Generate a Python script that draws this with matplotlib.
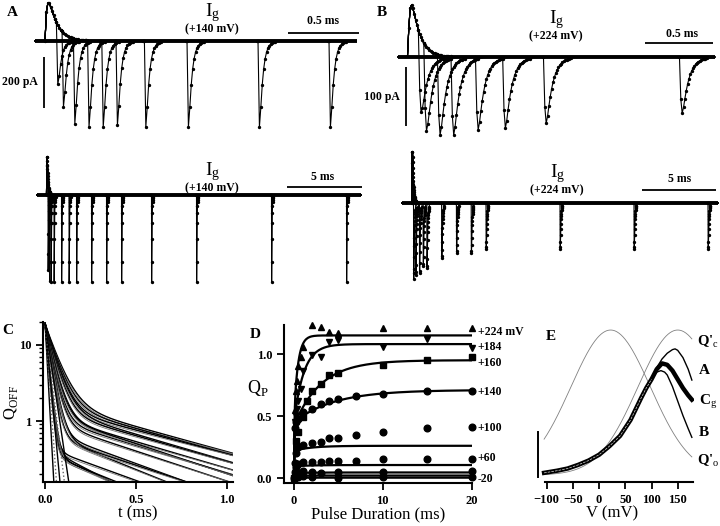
import matplotlib
matplotlib.use("Agg")
import matplotlib.pyplot as plt
import numpy as np

W, H = 720, 526

# ---- A / B: gating current traces (pulse durations in ms, tail peaks in pA)
a_top_dur = [0.08, 0.12, 0.2, 0.3, 0.4, 0.5, 0.7, 1.0, 1.5, 2.0]
a_top_tail = [180, 263, 325, 337, 337, 330, 337, 337, 337, 337]
a_bot_dur = [0.1, 0.2, 0.3, 0.5, 1, 1.5, 2, 3, 4, 5, 7, 10, 15, 20]
a_bot_tail = [300, 340, 340, 340, 340, 340, 340, 340, 340, 340, 340, 340, 340, 340]
a_on_peak = 150

b_top_dur = [0.08, 0.12, 0.22, 0.32, 0.5, 0.7, 1.0, 2.0]
b_top_tail = [98, 127, 132, 132, 123, 120, 112, 95]
b_bot_dur = [0.1, 0.25, 0.5, 0.75, 1, 2, 3, 4, 5, 10, 15, 20]
b_bot_tail = [134, 125, 122, 110, 113, 96, 86, 86, 79, 79, 79, 79]
b_on_peak = 88

# ---- C: Q_OFF decays, (A_fast, tau_fast, A_slow, tau_slow)
c_fast_amp = [17, 17, 18, 17, 18, 18, 18, 18, 18, 19, 19, 19, 19, 19, 19, 19]
c_fast_tau = [0.060, 0.055, 0.050, 0.050, 0.045, 0.040, 0.035, 0.038, 0.033,
              0.028, 0.025, 0.030, 0.016, 0.016, 0.015, 0.018]
c_slow_amp = [1.80, 1.70, 1.55, 1.50, 1.40, 1.20, 1.10, 1.25, 1.00,
              0.75, 0.70, 0.65, 0.45, 0.45, 0.40, 0.38]
c_slow_tau = [0.66, 0.66, 0.70, 0.62, 0.64, 0.62, 0.60, 0.55, 0.55,
              0.50, 0.45, 0.55, 0.50, 0.35, 0.40, 0.45]
c_quick_tau = [0.010, 0.013, 0.017, 0.022, 0.027]

# ---- D: Q_P vs pulse duration
d_labels = ["+224 mV", "+184", "+160", "+140", "+100", "+60", "-20"]
d_label_y = [1.18, 1.06, 0.93, 0.69, 0.40, 0.16, -0.01]
t224 = [0.1, 0.2, 0.3, 0.5, 0.75, 1, 2, 3, 4, 5, 10, 15, 20]
q224 = [0.55, 0.70, 0.78, 0.90, 0.98, 1.06, 1.23, 1.22, 1.18, 1.17, 1.21, 1.21, 1.21]
t184 = [0.1, 0.2, 0.3, 0.5, 0.75, 1, 2, 3, 4, 5, 10, 15, 20]
q184 = [0.45, 0.50, 0.56, 0.62, 0.72, 0.86, 0.99, 0.98, 1.10, 1.11, 1.06, 1.12, 1.05]
t160 = [0, 0.25, 0.5, 1, 1.5, 2, 3, 4, 5, 10, 15, 20]
q160 = [0.0, 0.30, 0.37, 0.49, 0.62, 0.70, 0.76, 0.83, 0.85, 0.91, 0.95, 0.98]
t140 = [0.1, 0.25, 0.5, 1, 2, 3, 4, 5, 7, 10, 15, 20]
q140 = [0.40, 0.45, 0.48, 0.53, 0.56, 0.60, 0.62, 0.64, 0.66, 0.68, 0.70, 0.70]
t100 = [0.1, 0.25, 0.5, 1, 2, 3, 4, 5, 7, 10, 15, 20]
q100 = [0.12, 0.20, 0.25, 0.27, 0.28, 0.29, 0.32, 0.32, 0.35, 0.37, 0.40, 0.41]
t60 = [0.1, 0.25, 0.5, 1, 2, 3, 4, 5, 7, 10, 15, 20]
q60 = [0.05, 0.09, 0.11, 0.13, 0.13, 0.13, 0.135, 0.135, 0.14, 0.15, 0.155, 0.155]
t20 = [0.1, 0.25, 0.5, 1, 2, 3, 5, 10, 20]
q20 = [0.02, 0.03, 0.04, 0.06, 0.05, 0.04, 0.05, 0.05, 0.06]
tm20 = [0, 0.25, 0.5, 1, 2, 5, 10, 20]
qm20 = [0.0, 0.01, 0.01, 0.02, 0.01, 0.0, 0.01, 0.01]
# fits: fast amplitude, slow amplitude, slow tau (ms)
fit_fast = [0.50, 0.45, 0.42, 0.45, 0.22, 0.095, 0.04, 0.02, 0.003]
fit_slow = [0.65, 0.63, 0.53, 0.26, 0.04, 0.01, 0.005, 0.0, 0.0]
fit_tau = [0.45, 1.1, 3.0, 4.5, 2.0, 2.0, 2.0, 2.0, 2.0]

# ---- E: normalized curves vs V (mV)
v_rise = [-105, -100, -80, -60, -40, -20, 0, 20, 40, 60, 80, 90, 100]
rise = [0.015, 0.018, 0.03, 0.045, 0.07, 0.10, 0.14, 0.20, 0.27, 0.38, 0.53, 0.60, 0.66]
v_cg = [110, 120, 130, 140, 150, 160, 170, 177]
cg = [0.73, 0.77, 0.76, 0.72, 0.66, 0.60, 0.55, 0.52]
v_a = [110, 120, 130, 140, 145, 150, 160, 170, 177]
curve_a = [0.74, 0.80, 0.84, 0.865, 0.87, 0.86, 0.81, 0.73, 0.655]
v_b = [110, 118, 125, 130, 140, 150, 160, 170, 177]
curve_b = [0.71, 0.72, 0.71, 0.69, 0.61, 0.51, 0.41, 0.32, 0.26]
q_open_peak, q_closed_peak, q_width = 22, 150, 76

plt.rcParams["font.family"] = ["Liberation Serif", "DejaVu Serif"]
plt.rcParams["mathtext.fontset"] = "custom"
plt.rcParams["mathtext.rm"] = "Liberation Serif"
plt.rcParams["mathtext.bf"] = "Liberation Serif:bold"

fig = plt.figure(figsize=(W / 100, H / 100), dpi=100)


def px_axes(x0, y0, x1, y1):
    return fig.add_axes([x0 / W, 1 - y1 / H, (x1 - x0) / W, (y1 - y0) / H])


def px_text(x, y, s, size=9, weight="bold", ha="center", **kw):
    fig.text(x / W, 1 - y / H, s, size=size, weight=weight, ha=ha, va="center", **kw)


def pulse(t, tr, td):
    tt = np.clip(t, 0, None)
    s = np.exp(-tt / td) - np.exp(-tt / tr)
    tpk = tr * td / (td - tr) * np.log(td / tr)
    smax = np.exp(-tpk / td) - np.exp(-tpk / tr)
    return np.where(t >= 0, s / smax, 0.0)


def gating_trace(t, dur, on_amp, tail_amp, on_k, off_k):
    on = on_amp * pulse(t, *on_k)
    on_end = on_amp * float(pulse(np.array([dur]), *on_k)[0])
    tp = t - dur
    tail = -tail_amp * pulse(tp, *off_k) + on_end * np.exp(-np.clip(tp, 0, None) / off_k[0])
    return np.where(t < dur, on, tail)


def draw_traces(ax, durs, tails, on_amp, off_k, t0, t1, dt, mark_span, xl, yl):
    on_k = (0.012, 0.06)
    t = np.round(np.arange(t0, t1, dt), 5)
    ax.plot([t0, t1], [0, 0], color="k", lw=2.8, solid_capstyle="butt")
    for d, a in zip(durs, tails):
        y = gating_trace(t, d, on_amp, a, on_k, off_k)
        ax.plot(t, y, color="k", lw=0.8)
        m = (t >= d - dt) & (t <= d + mark_span)
        ax.plot(t[m], y[m], ls="none", marker="o", ms=1.4, color="k")
    y = gating_trace(t, durs[-1], on_amp, tails[-1], on_k, off_k)
    m = (t >= 0) & (t <= 0.3)
    ax.plot(t[m], y[m], ls="none", marker="o", ms=1.4, color="k")
    ax.set_xlim(*xl)
    ax.set_ylim(*yl)
    ax.set_axis_off()


def bar(ax, xs, ys):
    ax.plot(xs, ys, color="k", lw=1.3, clip_on=False, solid_capstyle="butt")


# A top: 142 px/ms, 3.92 pA/px, onset x=45, baseline y=41
axA1 = px_axes(30, 0, 365, 140)
draw_traces(axA1, a_top_dur, a_top_tail, a_on_peak, (0.005, 0.022), -0.07, 2.2, 0.01, 0.12,
            ((30 - 45) / 142, (365 - 45) / 142), (-(140 - 41) * 3.92, 41 * 3.92))
bar(axA1, [1.711, 2.211], [31, 31])
bar(axA1, [-0.007, -0.007], [-63, -263])

# A bottom: 15 px/ms
axA2 = px_axes(30, 150, 370, 300)
draw_traces(axA2, a_bot_dur, a_bot_tail, a_on_peak, (0.005, 0.022), -0.63, 21.0, 0.01, 0.1,
            ((30 - 46.5) / 15, (370 - 46.5) / 15), (-(300 - 195) * 3.92, (195 - 150) * 3.92))
bar(axA2, [16.03, 21.03], [31, 31])

# B top: 136 px/ms, 1.69 pA/px
axB1 = px_axes(390, 0, 720, 140)
draw_traces(axB1, b_top_dur, b_top_tail, b_on_peak, (0.007, 0.045), -0.074, 2.257, 0.01, 0.2,
            ((390 - 408) / 136, (720 - 408) / 136), (-(140 - 57) * 1.69, 57 * 1.69))
bar(axB1, [1.743, 2.243], [24, 24])
bar(axB1, [-0.015, -0.015], [-17, -117])

# B bottom: 14.8 px/ms
axB2 = px_axes(390, 150, 720, 300)
draw_traces(axB2, b_bot_dur, b_bot_tail, b_on_peak, (0.007, 0.045), -0.68, 20.68, 0.01, 0.15,
            ((390 - 412) / 14.8, (720 - 412) / 14.8), (-(300 - 203) * 1.69, (203 - 150) * 1.69))
bar(axB2, [15.54, 20.54], [22, 22])

px_text(12, 12, "A", size=11)
px_text(382, 12, "B", size=11)
for x, y, v in [(213, 13, "+140"), (213, 172, "+140"), (557, 20, "+224"), (558, 174, "+224")]:
    px_text(x, y, r"$\mathrm{I_g}$", size=14, weight="normal")
    px_text(x - 1, y + 16, "(%s mV)" % v, size=8.5)
px_text(323, 21, "0.5 ms", size=8.5)
px_text(323, 177, "5 ms", size=8.5)
px_text(682, 34, "0.5 ms", size=8.5)
px_text(680, 179, "5 ms", size=8.5)
px_text(20, 82, "200 pA", size=8.5)
px_text(382, 97, "100 pA", size=8.5)


def style_axis(ax, left=True):
    for s in ["top", "right"]:
        ax.spines[s].set_visible(False)
    if not left:
        ax.spines["left"].set_visible(False)
        ax.tick_params(left=False, which="both")
    for s in ["left", "bottom"]:
        ax.spines[s].set_linewidth(1.5)
    ax.tick_params(which="major", direction="out", length=5, width=1.3, labelsize=9)
    ax.tick_params(which="minor", direction="out", length=3, width=1.0)
    for lab in ax.get_xticklabels() + ax.get_yticklabels():
        lab.set_fontweight("bold")


# C
axC = px_axes(43, 322, 233, 482)
tc = np.linspace(0, 1.033, 400)
for af, tf, a_s, ts in zip(c_fast_amp, c_fast_tau, c_slow_amp, c_slow_tau):
    axC.plot(tc, af * np.exp(-tc / tf) + a_s * np.exp(-tc / ts), color="k", lw=1.0)
    axC.plot(tc, 0.95 * af * np.exp(-tc / tf) + 0.93 * a_s * np.exp(-tc / (ts * 1.04)),
             color="0.45", lw=0.6)
for i, tq in enumerate(c_quick_tau):
    axC.plot(tc, 20 * np.exp(-tc / tq), color="k" if i % 2 == 0 else "0.4",
             lw=1.0, ls="-" if i % 2 == 0 else ":")
axC.set_yscale("log")
axC.set_xlim(-0.011, 1.033)
axC.set_ylim(0.158, 20)
axC.set_xticks([0, 0.5, 1.0])
axC.set_xticklabels(["0.0", "0.5", "1.0"])
axC.set_yticks([1, 10])
axC.set_yticklabels(["1", "10"])
style_axis(axC)
axC.set_xlabel("t (ms)", size=12, labelpad=0)
px_text(11, 402, r"Q$_{\mathrm{OFF}}$", size=12, weight="normal", rotation=90)
px_text(8, 330, "C", size=11)

# D
axD = px_axes(284, 325, 472, 483)
tfit = np.concatenate([np.linspace(0, 0.5, 120), np.linspace(0.5, 20, 200)])
for af, a_s, ts in zip(fit_fast, fit_slow, fit_tau):
    axD.plot(tfit, af * (1 - np.exp(-tfit / 0.05)) + a_s * (1 - np.exp(-tfit / ts)),
             color="k", lw=1.6)
series = [(t224, q224, "^"), (t184, q184, "v"), (t160, q160, "s"), (t140, q140, "o"),
          (t100, q100, "o"), (t60, q60, "o"), (t20, q20, "o"), (tm20, qm20, "o")]
for ts_, qs_, mk in series:
    axD.plot(ts_, qs_, ls="none", marker=mk, ms=4.8, color="k", clip_on=False)
for lab, ly in zip(d_labels, d_label_y):
    axD.text(20.7, ly, lab, size=8.5, weight="bold", va="center", clip_on=False)
axD.set_xlim(-1.12, 20.05)
axD.set_ylim(-0.04, 1.234)
axD.set_xticks([0, 10, 20])
axD.set_yticks([0, 0.5, 1.0])
axD.set_yticklabels(["0.0", "0.5", "1.0"])
style_axis(axD)
axD.set_xlabel("Pulse Duration (ms)", size=12, labelpad=0)
px_text(258, 388, r"Q$_{\mathrm{P}}$", size=13, weight="normal")
px_text(255, 334, "D", size=11)

# E
axE = px_axes(530, 328, 694, 482)
vg = np.linspace(-105, 177, 300)
axE.plot(vg, np.exp(-(vg - q_open_peak) ** 2 / (2 * q_width ** 2)), color="0.5", lw=0.6,
         clip_on=False)
axE.plot(vg, np.exp(-(vg - q_closed_peak) ** 2 / (2 * q_width ** 2)), color="0.5", lw=0.6,
         clip_on=False)
axE.plot(v_rise + v_a, rise + curve_a, color="k", lw=1.0)
axE.plot(v_rise + v_b, rise + curve_b, color="k", lw=1.0)
axE.plot(v_rise + v_cg, rise + cg, color="k", lw=3.2)
axE.plot(v_rise, rise, color="0.85", lw=0.5, ls="--")
axE.plot([-116.6, -116.6], [0.297, -0.014], color="k", lw=1.4, clip_on=False)
axE.set_xlim(-131.9, 181.1)
axE.set_ylim(-0.048, 1.014)
axE.set_xticks([-100, -50, 0, 50, 100, 150])
axE.spines["bottom"].set_bounds(-103, 179)
axE.set_yticks([])
style_axis(axE, left=False)
axE.set_xlabel("V (mV)", size=12, labelpad=0)
px_text(551, 336, "E", size=11)
px_text(697, 342, r"Q'$_{\mathrm{c}}$", size=10.5, ha="left")
px_text(699, 371, "A", size=11, ha="left")
px_text(699, 402, r"C$_{\mathrm{g}}$", size=11, ha="left")
px_text(699, 433, "B", size=11, ha="left")
px_text(697, 461, r"Q'$_{\mathrm{o}}$", size=10.5, ha="left")

fig.savefig("out.png", dpi=100)
